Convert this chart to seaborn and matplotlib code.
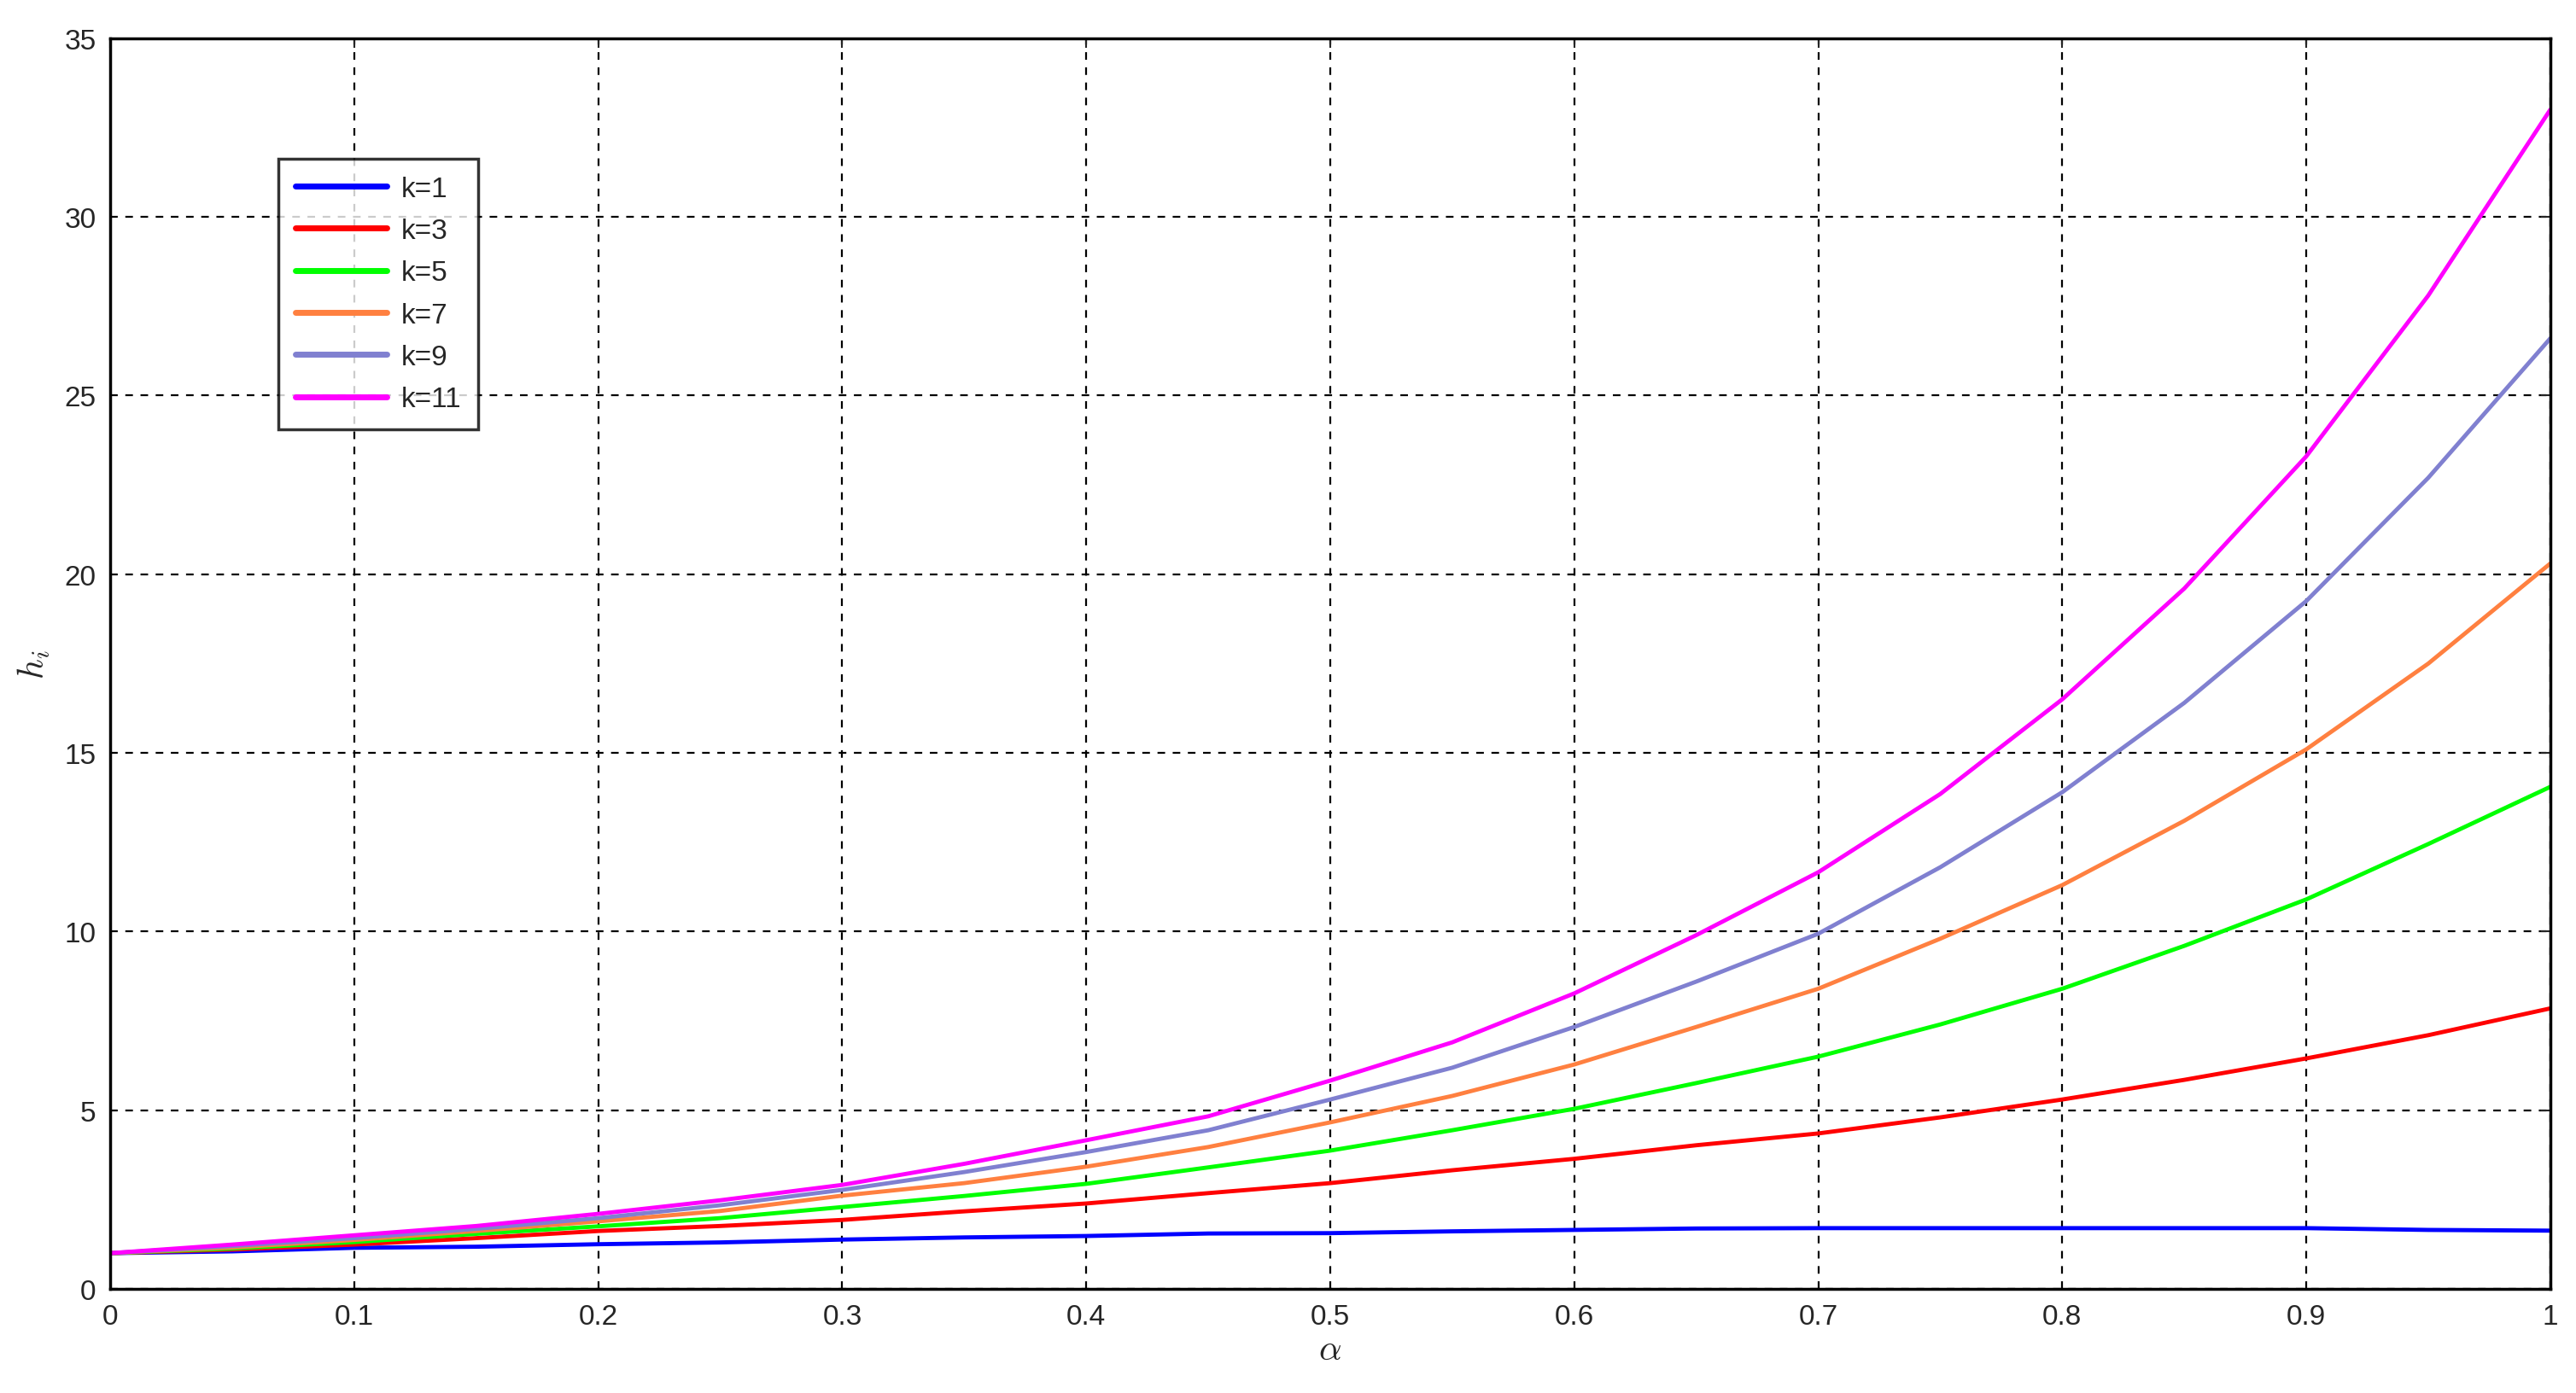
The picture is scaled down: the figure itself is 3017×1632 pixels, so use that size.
import numpy as np
import pandas as pd
import matplotlib
matplotlib.use("Agg")
import matplotlib.pyplot as plt
import seaborn as sns

# values at alpha = 0, 0.05, ..., 1
alpha = [0.0, 0.05, 0.1, 0.15, 0.2, 0.25, 0.3, 0.35, 0.4, 0.45, 0.5,
         0.55, 0.6, 0.65, 0.7, 0.75, 0.8, 0.85, 0.9, 0.95, 1.0]
h_k1 = [1.0, 1.05, 1.15, 1.18, 1.25, 1.3, 1.38, 1.44, 1.48, 1.55, 1.56,
        1.61, 1.65, 1.69, 1.7, 1.7, 1.7, 1.7, 1.7, 1.65, 1.63]
h_k3 = [1.0, 1.1, 1.24, 1.42, 1.62, 1.76, 1.93, 2.17, 2.39, 2.68, 2.96,
        3.32, 3.64, 4.02, 4.35, 4.8, 5.3, 5.85, 6.45, 7.1, 7.85]
h_k5 = [1.0, 1.13, 1.31, 1.54, 1.75, 1.98, 2.29, 2.6, 2.94, 3.4, 3.87,
        4.44, 5.04, 5.76, 6.5, 7.4, 8.4, 9.6, 10.9, 12.45, 14.05]
h_k7 = [1.0, 1.16, 1.37, 1.62, 1.89, 2.18, 2.61, 2.96, 3.42, 3.97, 4.66,
        5.4, 6.28, 7.33, 8.4, 9.8, 11.3, 13.1, 15.1, 17.5, 20.3]
h_k9 = [1.0, 1.2, 1.42, 1.68, 1.98, 2.34, 2.77, 3.27, 3.83, 4.44, 5.3,
        6.19, 7.33, 8.6, 9.94, 11.8, 13.9, 16.4, 19.25, 22.7, 26.6]
h_k11 = [1.0, 1.24, 1.5, 1.76, 2.1, 2.48, 2.91, 3.5, 4.16, 4.83, 5.83,
         6.9, 8.27, 9.9, 11.66, 13.85, 16.5, 19.6, 23.3, 27.8, 33.0]

labels = ["k=1", "k=3", "k=5", "k=7", "k=9", "k=11"]
series = [h_k1, h_k3, h_k5, h_k7, h_k9, h_k11]
colors = ["#0000FF", "#FF0000", "#00FF00", "#FF8040", "#8080D0", "#FF00FF"]

df = pd.concat([pd.DataFrame({"alpha": alpha, "h": s, "k": lab})
                for lab, s in zip(labels, series)], ignore_index=True)

sns.set_style("white")
plt.rcParams["font.family"] = ["Liberation Sans", "DejaVu Sans"]
plt.rcParams["mathtext.fontset"] = "cm"

fig = plt.figure(figsize=(30.17, 16.33), dpi=100)
ax = fig.add_axes([0.0428, 0.0747, 0.9472, 0.8972])

sns.lineplot(data=df, x="alpha", y="h", hue="k", palette=colors,
             linewidth=3.5, ax=ax, sort=False)

ax.set_xlim(0, 1)
ax.set_ylim(0, 35)
ax.set_xticks(np.arange(0, 1.01, 0.1))
ax.set_xticklabels(["0", "0.1", "0.2", "0.3", "0.4", "0.5",
                    "0.6", "0.7", "0.8", "0.9", "1"])
ax.set_yticks(np.arange(0, 36, 5))
ax.grid(True, color="black", linestyle=(0, (4, 4)), linewidth=1.6)
ax.tick_params(direction="in", top=True, right=True, length=8, width=1.5,
               labelsize=24, pad=12)
for sp in ax.spines.values():
    sp.set_linewidth(2.5)
    sp.set_color("black")

ax.set_xlabel(r"$\alpha$", fontsize=30, labelpad=2)
ax.set_ylabel(r"$h_i$", fontsize=30, labelpad=10)

leg = ax.legend(loc="upper left", bbox_to_anchor=(0.069, 0.904),
                borderaxespad=0, fontsize=24, frameon=True, fancybox=False,
                handlelength=3.2, handletextpad=0.5, labelspacing=0.55,
                borderpad=0.6)
leg.get_frame().set_edgecolor("black")
leg.get_frame().set_linewidth(2.5)
for line in leg.get_lines():
    line.set_linewidth(5)

fig.savefig("out.png", dpi=100)
